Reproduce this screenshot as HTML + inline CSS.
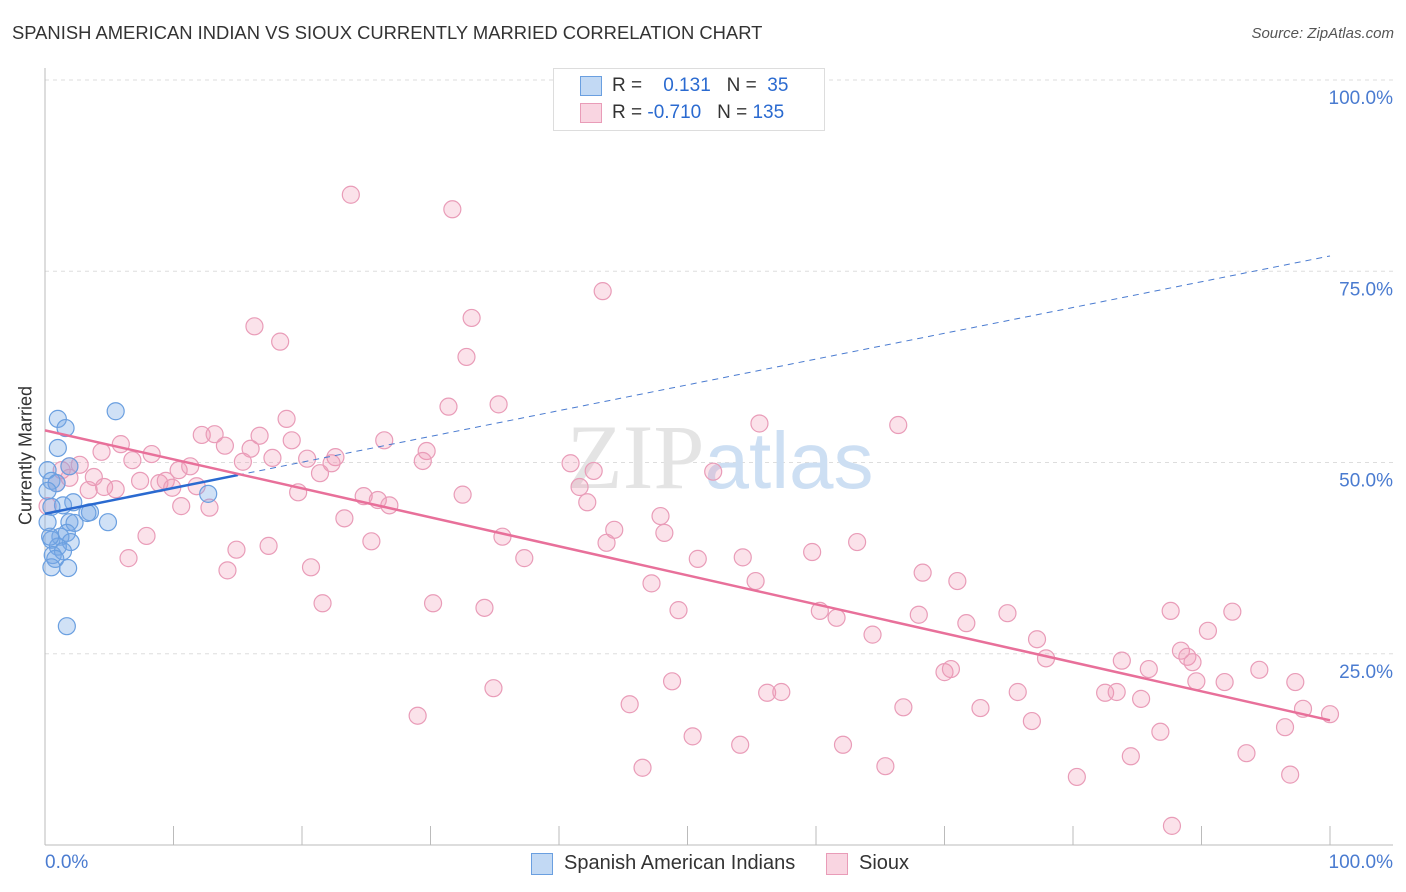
<!DOCTYPE html>
<html><head><meta charset="utf-8"><style>
body{margin:0;background:#fff;font-family:"Liberation Sans",sans-serif;}
#c{position:relative;width:1406px;height:892px;overflow:hidden;}
.t{position:absolute;white-space:nowrap;}
</style></head><body>
<div id="c">
<div class="t" style="left:12px;top:22px;font-size:18.4px;color:#333;">SPANISH AMERICAN INDIAN VS SIOUX CURRENTLY MARRIED CORRELATION CHART</div>
<div class="t" style="right:12px;top:25px;font-size:15px;color:#555;font-style:italic;">Source: ZipAtlas.com</div>
<svg id="s" width="1406" height="892" style="position:absolute;left:0;top:0"></svg>
</div>
<script>
const blueX=[5.5,1.0,1.6,1.0,1.9,0.2,0.5,0.9,0.2,12.7,2.2,1.4,0.5,3.5,3.3,4.9,1.9,2.3,0.2,1.7,1.2,0.5,2.0,1.0,0.6,1.4,0.8,0.5,1.8,1.7,0.4];
const blueY=[56.7,55.7,54.5,51.9,49.5,49.0,47.6,47.3,46.3,45.9,44.8,44.4,44.2,43.5,43.4,42.2,42.2,42.1,42.2,40.8,40.3,39.9,39.6,39.0,37.9,38.4,37.4,36.3,36.2,28.6,40.3];
const pinkX=[23.8,31.7,43.4,16.3,18.3,33.2,32.8,31.4,35.3,18.8,55.6,66.4,5.9,4.4,8.3,6.8,12.2,13.2,14.0,16.7,16.0,19.2,15.4,17.7,20.4,22.6,22.3,26.4,29.7,29.4,21.4,1.9,2.7,1.3,3.8,1.9,0.9,10.4,11.3,7.4,8.9,9.4,9.9,4.6,5.5,3.4,11.8,19.7,24.8,25.9,26.8,32.5,10.6,12.8,40.9,42.7,52.0,41.6,42.2,23.3,47.9,44.3,48.2,35.6,43.7,7.9,25.4,14.9,17.4,6.5,37.3,50.8,54.3,59.7,63.2,14.2,20.7,68.3,71.0,55.3,47.2,21.6,30.2,34.2,49.3,60.3,61.6,68.0,74.9,87.6,92.4,71.7,64.4,90.5,77.2,88.4,88.9,89.3,77.9,83.8,85.9,94.5,70.0,70.5,48.8,89.6,91.8,97.3,34.9,56.2,57.3,75.7,82.5,83.4,85.3,45.5,66.8,72.8,97.9,100,29.0,76.8,96.5,50.4,86.8,54.1,62.1,84.5,93.5,65.4,46.5,80.3,96.9,87.7,0.2];
const pinkY=[85.0,83.1,72.4,67.8,65.8,68.9,63.8,57.3,57.6,55.7,55.1,54.9,52.4,51.4,51.1,50.3,53.6,53.7,52.2,53.5,51.8,52.9,50.1,50.6,50.5,50.7,49.9,52.9,51.5,50.2,48.6,49.5,49.7,49.0,48.1,48.0,47.3,49.0,49.5,47.6,47.3,47.6,46.7,46.8,46.5,46.4,46.9,46.1,45.6,45.1,44.4,45.8,44.3,44.1,49.9,48.9,48.8,46.8,44.8,42.7,43.0,41.2,40.8,40.3,39.5,40.4,39.7,38.6,39.1,37.5,37.5,37.4,37.6,38.3,39.6,35.9,36.3,35.6,34.5,34.5,34.2,31.6,31.6,31.0,30.7,30.6,29.7,30.1,30.3,30.6,30.5,29.0,27.5,28.0,26.9,25.4,24.6,23.9,24.4,24.1,23.0,22.9,22.6,23.0,21.4,21.4,21.3,21.3,20.5,19.9,20.0,20.0,19.9,20.0,19.1,18.4,18.0,17.9,17.8,17.1,16.9,16.2,15.4,14.2,14.8,13.1,13.1,11.6,12.0,10.3,10.1,8.9,9.2,2.5,44.3];
const blueTrend=[43.3,77.0], blueSolidEnd=15;
const pinkTrend=[54.2,16.3];
const yTicks=[100,75,50,25];
const yTickLabels=["100.0%","75.0%","50.0%","25.0%"];
const NS="http://www.w3.org/2000/svg";
const s=document.getElementById('s');
const X=v=>45+v*12.85, Y=v=>845-v*7.65;
function el(t,a){const e=document.createElementNS(NS,t);for(const k in a)e.setAttribute(k,a[k]);s.appendChild(e);return e;}
yTicks.forEach((t,i)=>{
 const g=el('line',{x1:45,x2:1393,y1:Y(t),y2:Y(t),stroke:'#ddd','stroke-dasharray':'4,4'});
 
 
 const l=el('text',{x:1393,y:Y(t)+24,'text-anchor':'end','font-size':19,fill:'#4a7bd0','font-family':'Liberation Sans'});
 l.textContent=yTickLabels[i];
 
 
});
let ax=el('line',{x1:45,x2:45,y1:68,y2:845,stroke:'#bbb'});


ax=el('line',{x1:45,x2:1393,y1:845,y2:845,stroke:'#bbb'});


for(let i=0;i<=10;i++){const tk=el('line',{x1:X(i*10),x2:X(i*10),y1:826,y2:845,stroke:'#bbb'});
 
 }
let w=el('text',{x:720,y:488,'text-anchor':'middle','font-size':92,fill:'#e4e4e4','font-family':'Liberation Serif'});
w.innerHTML='ZIP<tspan fill="#cddff3" font-family="Liberation Sans" font-size="80">atlas</tspan>';


pinkX.forEach((x,i)=>{const c=el('circle',{cx:X(x),cy:Y(pinkY[i]),r:8.5,fill:'rgba(240,150,180,0.28)',stroke:'#e99cb8','stroke-width':1.2});
 
 });
blueX.forEach((x,i)=>{const c=el('circle',{cx:X(x),cy:Y(blueY[i]),r:8.5,fill:'rgba(120,170,230,0.35)',stroke:'#6a9fe0','stroke-width':1.2});
 
 });
const bY=v=>blueTrend[0]+(blueTrend[1]-blueTrend[0])*v/100;
let tl=el('line',{x1:X(blueSolidEnd),y1:Y(bY(blueSolidEnd)),x2:X(100),y2:Y(bY(100)),stroke:'#4a7bd0','stroke-width':1,'stroke-dasharray':'6,5'});


tl=el('line',{x1:X(0),y1:Y(bY(0)),x2:X(blueSolidEnd),y2:Y(bY(blueSolidEnd)),stroke:'#2a6ad0','stroke-width':2.5});


tl=el('line',{x1:X(0),y1:Y(pinkTrend[0]),x2:X(100),y2:Y(pinkTrend[1]),stroke:'#e8709a','stroke-width':2.5});


</script>
<div class="t" style="left:-44px;top:445px;transform:rotate(-90deg);font-size:18px;color:#333;width:140px;text-align:center;">Currently Married</div>
<div class="t" style="left:45px;top:852px;font-size:19px;color:#4a7bd0;">0.0%</div>
<div class="t" style="right:13px;top:852px;font-size:19px;color:#4a7bd0;">100.0%</div>
<div style="position:absolute;left:553px;top:68px;width:270px;height:61px;border:1px solid #ddd;background:#fff;font-size:19px;">
 <div style="position:absolute;left:26px;top:7px;width:20px;height:18px;background:rgba(120,170,230,0.45);border:1px solid #6a9fe0;"></div>
 <div class="t" style="left:58px;top:6px;color:#333;">R = &nbsp;&nbsp;<span style="color:#2a6ad0">&nbsp;0.131</span>&nbsp;&nbsp;&nbsp;N = &nbsp;<span style="color:#2a6ad0">35</span></div>
 <div style="position:absolute;left:26px;top:34px;width:20px;height:18px;background:rgba(240,150,180,0.4);border:1px solid #e99cb8;"></div>
 <div class="t" style="left:58px;top:33px;color:#333;">R = <span style="color:#2a6ad0">-0.710</span>&nbsp;&nbsp;&nbsp;N = <span style="color:#2a6ad0">135</span></div>
</div>
<div style="position:absolute;left:531px;top:853px;font-size:20px;color:#333;">
 <div style="position:absolute;left:0;top:0;width:20px;height:20px;background:rgba(120,170,230,0.45);border:1px solid #6a9fe0;"></div>
 <div class="t" style="left:33px;top:-1px;">Spanish American Indians</div>
 <div style="position:absolute;left:295px;top:0;width:20px;height:20px;background:rgba(240,150,180,0.4);border:1px solid #e99cb8;"></div>
 <div class="t" style="left:328px;top:-1px;">Sioux</div>
</div>
</body></html>
